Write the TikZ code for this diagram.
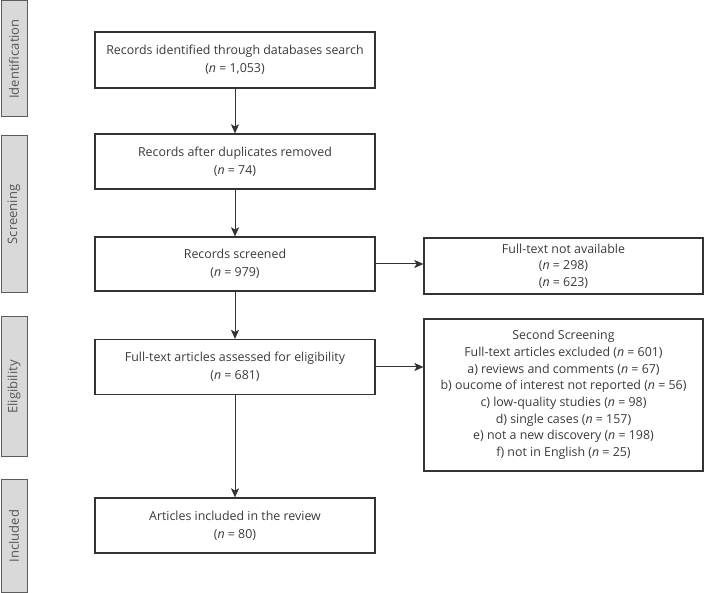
\documentclass[tikz,border=0pt]{standalone}
\usepackage{fontspec}
\setmainfont{Open Sans}
\usetikzlibrary{arrows.meta}
\definecolor{txt}{HTML}{3A3A3A}
\definecolor{edge}{HTML}{333333}
\definecolor{barfill}{HTML}{D9D9D9}
\begin{document}
\begin{tikzpicture}[x=1pt,y=-1pt,
  box/.style={draw=edge, line width=1.2pt, minimum width=280pt, minimum height=55pt, align=center, inner sep=2pt, text=txt, font=\fontsize{12.4}{18}\selectfont},
  sidebar/.style={draw=edge!80, fill=barfill, line width=1pt},
  sidetext/.style={rotate=90, text=txt!85, font=\fontsize{13}{15}\selectfont},
  arr/.style={draw=edge, line width=1pt, -{Stealth[length=9pt,width=8pt,inset=2pt]}}]
\useasboundingbox (0,0) rectangle (705,593);
% side bars
\draw[sidebar] (1,1) rectangle (27,117);
\node[sidetext] (sIdent) at (14,59) {Identification};
\draw[sidebar] (1,136) rectangle (27,293);
\node[sidetext] (sScreen) at (14,214.5) {Screening};
\draw[sidebar] (1,317) rectangle (27,457);
\node[sidetext] (sElig) at (14,387) {Eligibility};
\draw[sidebar] (1,480) rectangle (27,592.5);
\node[sidetext] (sIncl) at (14,536) {Included};
% main boxes
\node[box, minimum height=56pt] (b1) at (235,60) {Records identified through databases search\\(\textit{n} = 1,053)};
\node[box] (b2) at (235,161.5) {Records after duplicates removed\\(\textit{n} = 74)};
\node[box, minimum height=54pt] (b3) at (235,264) {Records screened\\(\textit{n} = 979)};
\node[box] (b4) at (235,367) {Full-text articles assessed for eligibility\\(\textit{n} = 681)};
\node[box] (b5) at (235,525.5) {Articles included in the review\\(\textit{n} = 80)};
% right boxes
\node[box, minimum width=279pt, minimum height=56pt, font=\fontsize{12.4}{16.7}\selectfont] (ra) at (563.5,266) {Full-text not available\\(\textit{n} = 298)\\(\textit{n} = 623)};
\node[box, minimum width=279pt, minimum height=152pt, font=\fontsize{12.4}{16.7}\selectfont] (rb) at (563.5,395) {Second Screening\\Full-text articles excluded (\textit{n} = 601)\\a) reviews and comments (\textit{n} = 67)\\b) oucome of interest not reported (\textit{n} = 56)\\c) low-quality studies (\textit{n} = 98)\\d) single cases (\textit{n} = 157)\\e) not a new discovery (\textit{n} = 198)\\f) not in English (\textit{n} = 25)};
% arrows
\draw[arr] (b1) -- (b2);
\draw[arr] (b2) -- (b3);
\draw[arr] (b3) -- (b4);
\draw[arr] (b4) -- (b5);
\draw[arr] (b3.east) -- (b3.east -| ra.west);
\draw[arr] (b4.east) -- (b4.east -| rb.west);
\end{tikzpicture}
\end{document}
